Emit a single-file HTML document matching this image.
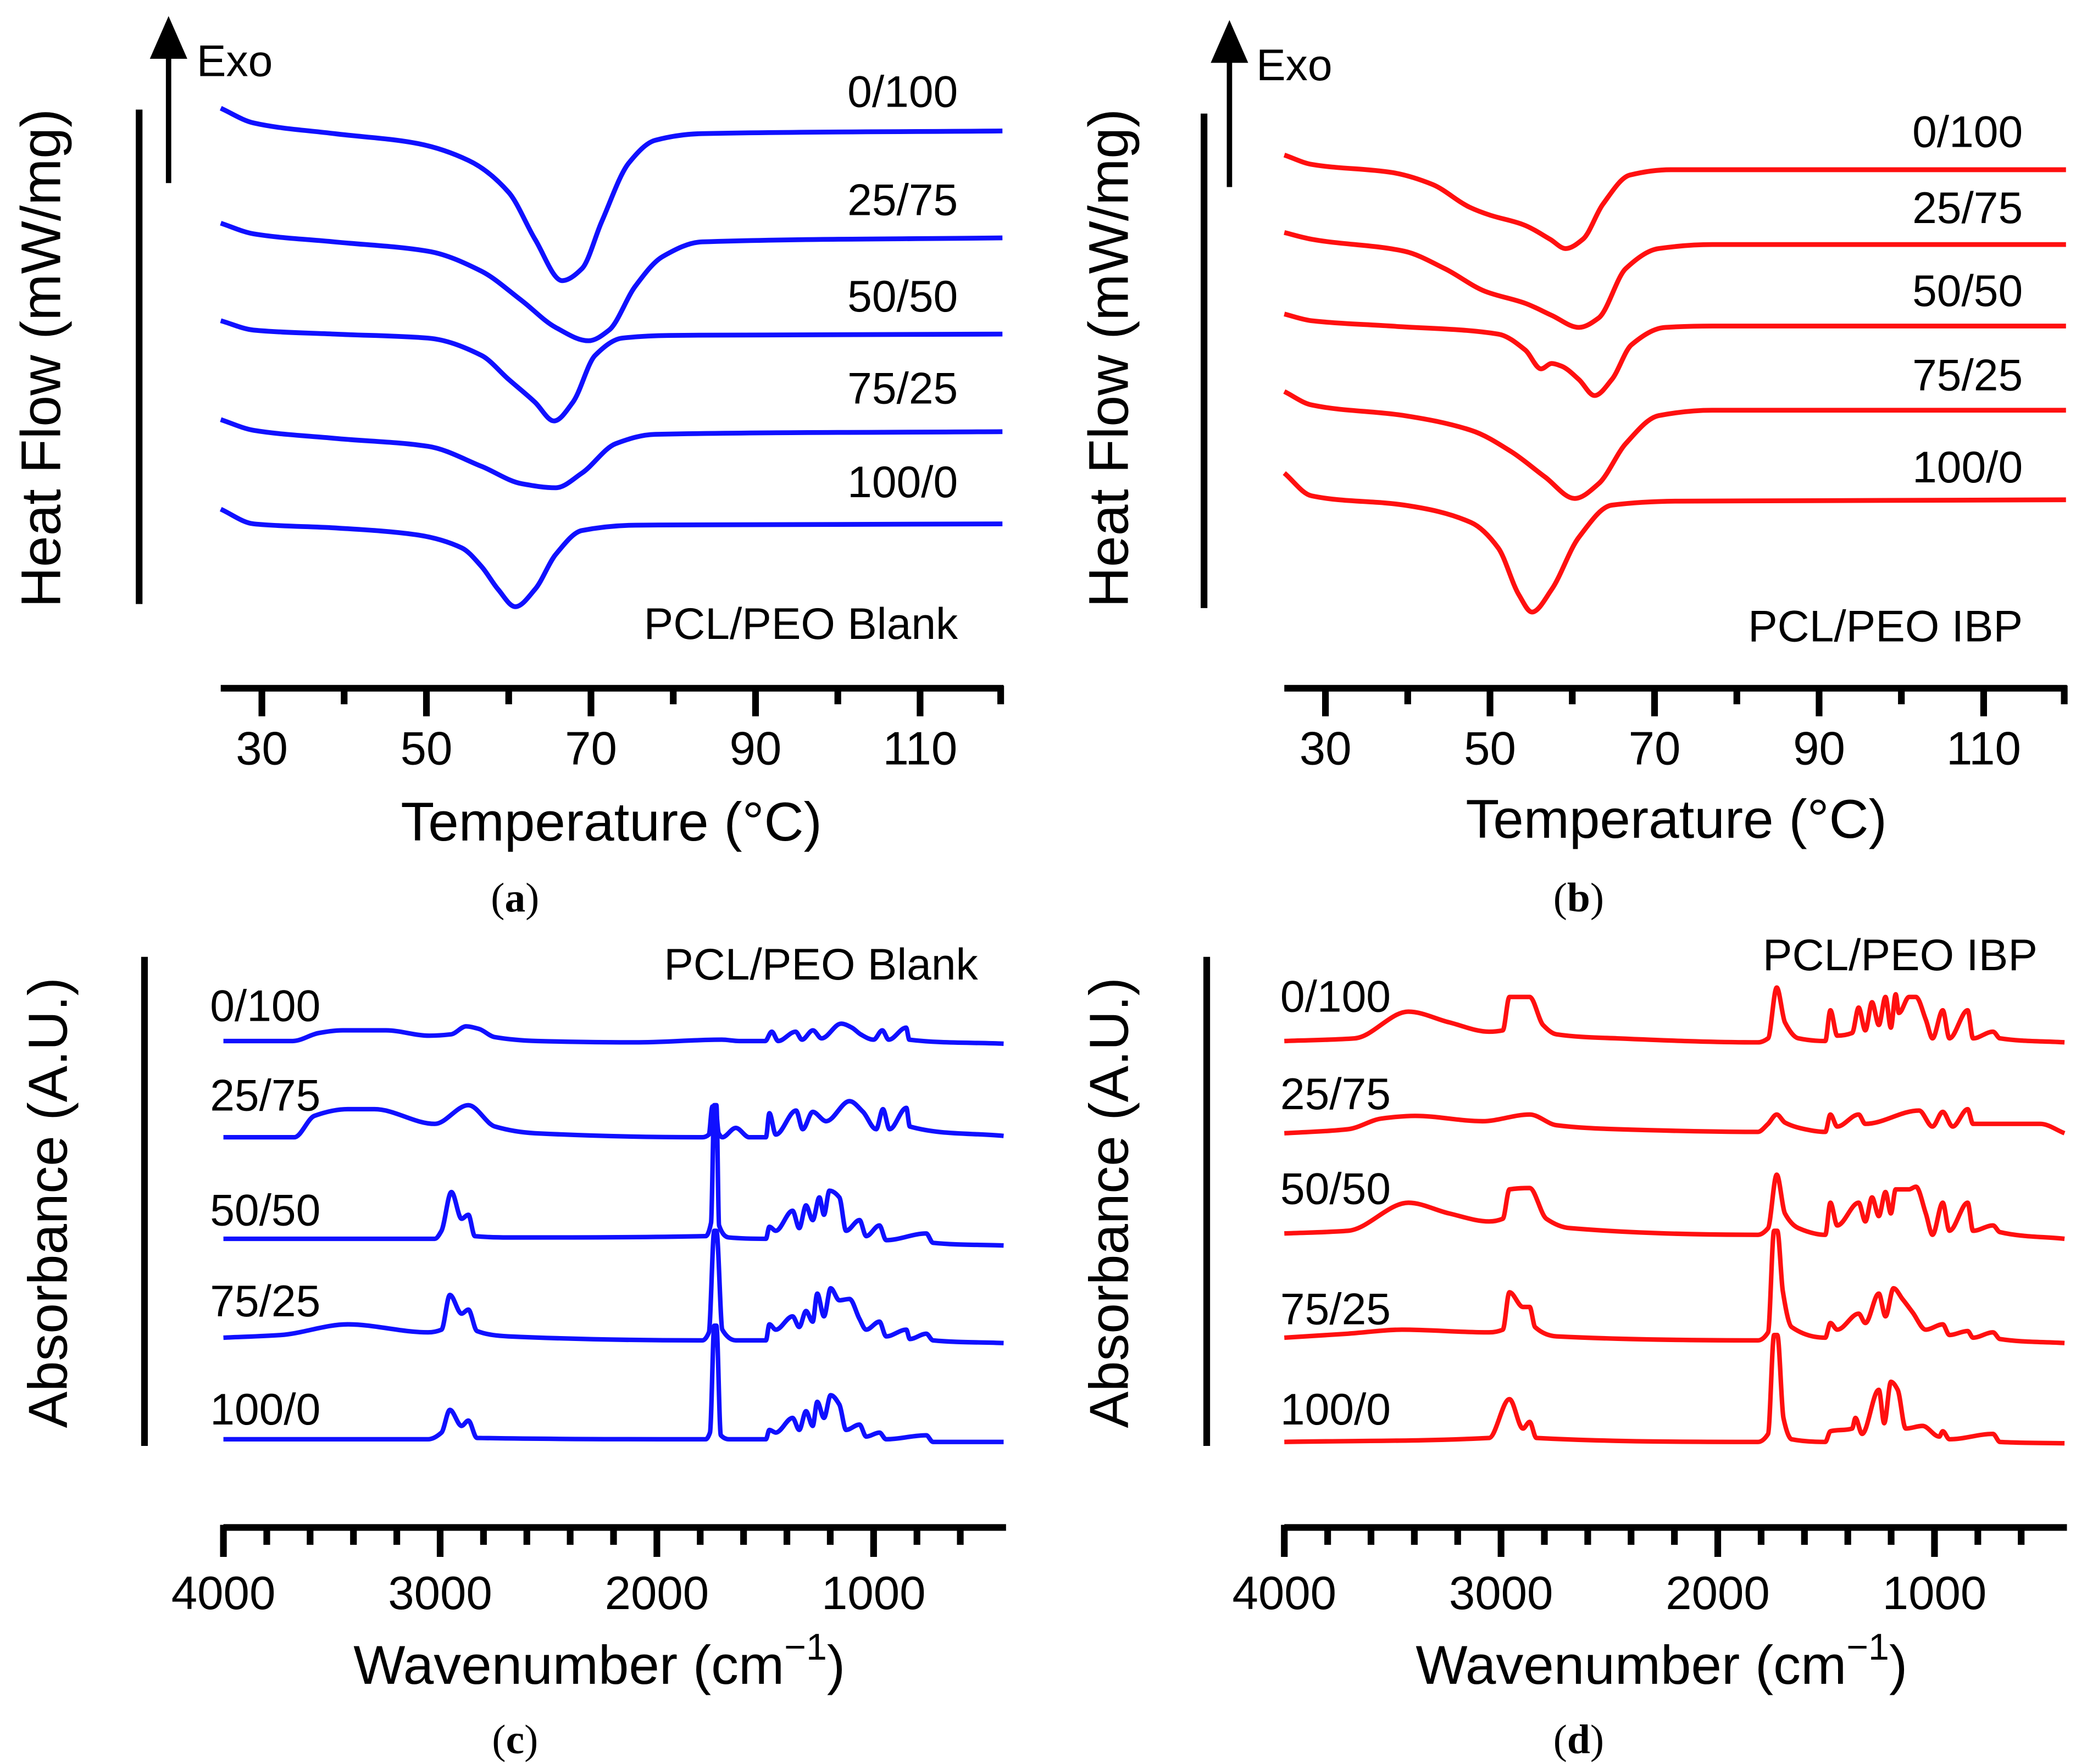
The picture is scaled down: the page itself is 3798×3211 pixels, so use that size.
<!DOCTYPE html>
<html><head><meta charset="utf-8"><style>
html,body{margin:0;padding:0;background:#fff}
svg{display:block}
text{font-family:"Liberation Sans",Arial,sans-serif;fill:#000}
.cap{font-family:"Liberation Serif",serif}
</style></head><body>
<svg id="fig" xmlns="http://www.w3.org/2000/svg" width="3798" height="3211" viewBox="0 0 1560 1320" preserveAspectRatio="none">
<g id="static">
<line x1="104" y1="82" x2="104" y2="452" stroke="#000" stroke-width="5"/>
<line x1="126" y1="137" x2="126" y2="38" stroke="#000" stroke-width="4"/>
<polygon points="126,12 112,44 140,44" fill="#000"/>
<text x="147" y="57" font-size="33">Exo</text>
<text transform="translate(45,268) rotate(-90)" text-anchor="middle" font-size="42">Heat Flow (mW/mg)</text>
<text x="716" y="478" text-anchor="end" font-size="33">PCL/PEO Blank</text>
<text x="457" y="629" text-anchor="middle" font-size="41">Temperature (°C)</text>
<text class="cap" x="385" y="682" text-anchor="middle" font-size="31">(<tspan font-weight="bold">a</tspan>)</text>
<line x1="900" y1="85" x2="900" y2="455" stroke="#000" stroke-width="5"/>
<line x1="919" y1="140" x2="919" y2="41" stroke="#000" stroke-width="4"/>
<polygon points="919,15 905,47 933,47" fill="#000"/>
<text x="939" y="60" font-size="33">Exo</text>
<text transform="translate(843,268) rotate(-90)" text-anchor="middle" font-size="42">Heat Flow (mW/mg)</text>
<text x="1512" y="480" text-anchor="end" font-size="33">PCL/PEO IBP</text>
<text x="1253" y="627" text-anchor="middle" font-size="41">Temperature (°C)</text>
<text class="cap" x="1180" y="682" text-anchor="middle" font-size="31">(<tspan font-weight="bold">b</tspan>)</text>
<line x1="108" y1="716" x2="108" y2="1082" stroke="#000" stroke-width="5"/>
<text transform="translate(50,900) rotate(-90)" text-anchor="middle" font-size="41">Absorbance (A.U.)</text>
<text x="731" y="733" text-anchor="end" font-size="33">PCL/PEO Blank</text>
<text x="448" y="1260" text-anchor="middle" font-size="41">Wavenumber (cm<tspan dy="-18" font-size="28">−1</tspan><tspan dy="18">)</tspan></text>
<text class="cap" x="385" y="1312" text-anchor="middle" font-size="31">(<tspan font-weight="bold">c</tspan>)</text>
<line x1="902" y1="716" x2="902" y2="1082" stroke="#000" stroke-width="5"/>
<text transform="translate(843,900) rotate(-90)" text-anchor="middle" font-size="41">Absorbance (A.U.)</text>
<text x="1523" y="726" text-anchor="end" font-size="33">PCL/PEO IBP</text>
<text x="1242" y="1260" text-anchor="middle" font-size="41">Wavenumber (cm<tspan dy="-18" font-size="28">−1</tspan><tspan dy="18">)</tspan></text>
<text class="cap" x="1180" y="1312" text-anchor="middle" font-size="31">(<tspan font-weight="bold">d</tspan>)</text>
</g>
<g id="dyn"></g>
</svg>
<script>
const dscLabels = ["0/100","25/75","50/50","75/25","100/0"];
const dscTicks = [30,50,70,90,110];
const dscMinorTicks = [40,60,80,100,120];
const dscA_T = [
 [25,29,38.8,48.6,55.1,60,63.2,66.5,68.9,71.3,74.6,77.8,83.5,120],
 [25,29,38.8,50.2,56.7,61.6,65.7,69.7,72.2,75.4,78.7,83.5,120],
 [25,29,38.8,50.2,56.7,60,63.2,65.5,67.8,70.5,73.8,79.5,120],
 [25,29,38.8,50.2,56.7,61.6,65.7,68.9,73,77.8,120],
 [25,29,38.8,48.6,54.3,56.7,58.7,60.8,63.2,65.7,68.9,75.4,120]
];
const dscA_HF = [
 [41.9,40.8,40.0,39.3,38.0,35.6,32.1,29.0,29.9,33.4,37.8,39.5,40.0,40.2],
 [33.3,32.5,31.9,31.2,29.7,27.5,25.5,24.5,25.3,28.6,30.8,31.9,32.2],
 [26.0,25.3,25.0,24.7,23.4,21.6,19.9,18.5,19.9,23.4,24.7,24.9,25.0],
 [18.6,17.8,17.2,16.6,15.1,13.8,13.5,14.6,16.8,17.5,17.7],
 [11.9,10.8,10.5,10.0,9.0,7.6,5.9,4.6,5.9,8.5,10.3,10.7,10.8]
];
const dscB_T = [
 [25,28.3,38,43,47.5,50,54,57.3,59.2,61.3,63.7,67,72,120],
 [25,28.3,39.6,44.5,49.4,54.3,57.5,60.8,63.2,66.5,70.5,77,120],
 [25,28.3,38,51,54.3,56.2,57.5,58.7,60.8,62.7,64.8,67.2,71.3,77,120],
 [25,28.3,39.6,47.7,52.6,56.7,60.3,63.2,66.5,70.5,77,120],
 [25,28.3,39.6,47.7,51,53.5,55.1,57.5,60.8,64.8,73,120]
];
const dscB_HF = [
 [38.4,37.7,37.1,36.2,34.5,33.9,33.2,32.1,31.4,32.1,34.7,36.9,37.3,37.3],
 [32.6,32.1,31.2,29.9,28.2,27.3,26.4,25.5,26.2,29.9,31.4,31.7,31.7],
 [26.5,26.0,25.6,25.0,23.8,22.4,22.8,22.6,21.6,20.4,21.6,24.2,25.5,25.6,25.6],
 [20.7,19.7,18.9,17.8,16.2,14.3,12.7,13.8,16.8,18.9,19.3,19.3],
 [14.6,12.9,12.2,10.9,9.0,5.5,4.2,5.9,9.8,12.2,12.5,12.6]
];
const ftirTicks = [4000,3000,2000,1000];
const ftirMinorTicks = [3800,3600,3400,3200,2800,2600,2400,2200,1800,1600,1400,1200,800,600];
const ftirOffsetsC = [32.1,24.9,17.3,9.9,2.3];
const ftirOffsetsD = [32.1,25.2,17.6,9.7,2.1];
const ftirC0 = [[4000,0],[3680,0],[3560,0.6],[3450,0.8],[3250,0.8],[3050,0.4],[2950,0.5],[2880,1.1],[2820,0.9],[2750,0.3],[2550,0],[2100,-0.1],[1700,0.1],[1620,0],[1500,0],[1470,0.7],[1440,0],[1360,0.7],[1330,0.1],[1280,0.8],[1240,0.2],[1150,1.3],[1100,1.0],[1060,0.5],[1000,0.1],[960,0.8],[930,0.1],[850,1.0],[835,0.1],[400,-0.2]];
const ftirC1 = [[4000,0],[3673,0],[3580,1.6],[3426,2.1],[3303,2.1],[3025,1.0],[2870,2.4],[2747,0.8],[2562,0.3],[1790,0],[1760,0.2],[1744,2.3],[1730,2.3],[1715,0.3],[1698,0],[1636,0.7],[1574,0],[1497,0],[1481,1.8],[1451,0.2],[1358,2.0],[1327,0.6],[1281,1.9],[1219,1.2],[1111,2.7],[1049,1.9],[988,0.6],[957,2.1],[926,0.6],[849,2.2],[833,0.8],[400,0.1]];
const ftirC2 = [[4000,0],[3025,0],[2994,0.6],[2948,3.5],[2901,1.5],[2870,1.8],[2840,0.2],[2685,0.1],[1775,0.2],[1750,1.2],[1735,10],[1725,10],[1713,1.0],[1667,0.1],[1497,0],[1481,0.9],[1451,0.6],[1374,2.1],[1343,0.8],[1312,2.5],[1281,1.4],[1250,3.1],[1229,1.8],[1204,3.6],[1158,3.1],[1127,0.6],[1065,1.4],[1034,0.2],[973,1.0],[942,-0.1],[757,0.4],[726,-0.3],[400,-0.5]];
const ftirC3 = [[4000,0],[3735,0.2],[3426,1.0],[3056,0.4],[2994,0.6],[2955,3.2],[2901,1.8],[2870,2.1],[2830,0.5],[2685,0.1],[1790,-0.2],[1760,0.4],[1735,8],[1725,8],[1698,0.6],[1636,-0.2],[1497,-0.2],[1481,1.0],[1451,0.6],[1374,1.6],[1343,0.8],[1312,2.0],[1281,1.2],[1260,3.3],[1229,1.6],[1198,3.7],[1158,2.8],[1111,2.9],[1065,1.4],[1034,0.6],[973,1.2],[942,0.1],[849,0.6],[833,-0.1],[757,0.3],[726,-0.2],[400,-0.4]];
const ftirC4 = [[4000,0],[3056,0],[2994,0.5],[2955,2.2],[2901,1.0],[2870,1.4],[2830,0.1],[1775,0],[1755,0.5],[1735,8.5],[1725,8.5],[1705,0.3],[1667,0],[1497,0],[1481,0.7],[1451,0.5],[1374,1.6],[1343,0.7],[1312,2.1],[1281,1.0],[1260,2.8],[1229,1.6],[1198,3.3],[1158,2.6],[1127,0.7],[1065,1.1],[1034,0.2],[973,0.5],[942,0],[757,0.3],[726,-0.2],[400,-0.2]];
const ftirD0 = [[4000,0],[3675,0.2],[3427,2.2],[3240,1.4],[3055,0.7],[2992,0.8],[2961,3.3],[2868,3.3],[2806,1.2],[2744,0.5],[2465,0.2],[1815,-0.1],[1768,0.2],[1728,4.0],[1690,1.4],[1628,0.2],[1504,0],[1480,2.3],[1449,0.4],[1380,0.6],[1350,2.5],[1319,0.8],[1288,2.9],[1257,1.2],[1226,3.3],[1201,1.0],[1179,3.5],[1164,2.1],[1117,3.3],[1086,3.3],[1040,1.6],[1009,0.2],[962,2.3],[931,0.2],[847,2.3],[822,0.2],[730,0.7],[698,0.2],[400,-0.1]];
const ftirD1 = [[4000,0],[3706,0.3],[3551,1.1],[3396,1.3],[3086,0.9],[2868,1.4],[2744,0.6],[2465,0.3],[1815,0.1],[1768,0.7],[1728,1.4],[1690,0.8],[1597,0.3],[1504,0.1],[1480,1.4],[1449,0.5],[1350,1.4],[1319,0.7],[1071,1.7],[1009,0.5],[962,1.6],[916,0.5],[847,1.8],[822,0.7],[512,0.7],[400,0]];
const ftirD2 = [[4000,0.1],[3706,0.3],[3427,2.4],[3240,1.6],[3055,1.0],[2992,1.2],[2961,3.4],[2868,3.5],[2791,1.2],[2682,0.5],[1815,0],[1768,0.5],[1728,4.5],[1690,1.6],[1628,0.5],[1504,0],[1480,2.4],[1449,0.7],[1350,2.4],[1319,1.0],[1288,2.8],[1257,1.4],[1226,3.2],[1201,1.6],[1179,3.4],[1117,3.4],[1086,3.6],[1040,1.6],[1009,0],[962,2.4],[931,0.3],[847,2.4],[822,0.3],[730,0.7],[698,0.2],[400,-0.3]];
const ftirD3 = [[4000,0.2],[3706,0.5],[3458,0.8],[3055,0.6],[2992,0.8],[2961,3.6],[2899,2.5],[2868,2.5],[2843,1.0],[2744,0.3],[1815,0],[1768,0.6],[1740,8.2],[1725,8.2],[1700,3.7],[1659,1.0],[1504,0.2],[1480,1.3],[1449,0.8],[1350,2.0],[1319,1.3],[1257,3.5],[1226,1.8],[1189,3.9],[1148,3.1],[1101,2.1],[1040,0.8],[962,1.2],[931,0.4],[847,0.7],[822,0.2],[730,0.6],[698,0.1],[400,-0.2]];
const ftirD4 = [[4000,0],[3055,0.3],[2961,3.2],[2899,1.0],[2868,1.5],[2837,0.3],[1815,0],[1768,0.6],[1740,8.0],[1725,8.0],[1697,1.8],[1659,0.2],[1504,0],[1480,0.8],[1380,1.0],[1365,1.8],[1334,0.6],[1257,3.9],[1232,1.4],[1201,4.5],[1170,3.9],[1133,1.0],[1055,1.2],[978,0.4],[962,0.8],[931,0.2],[730,0.6],[698,0],[400,-0.1]];

const NS="http://www.w3.org/2000/svg";
const root=document.getElementById('dyn');
function mk(tag,attrs){const e=document.createElementNS(NS,tag);for(const k in attrs)e.setAttribute(k,attrs[k]);root.appendChild(e);return e;}

// monotone cubic (Fritsch-Carlson) path through points sorted by x
function monoPath(pts){
  const n=pts.length, dx=[], s=[], m=[];
  for(let i=0;i<n-1;i++){dx[i]=pts[i+1][0]-pts[i][0]; s[i]=(pts[i+1][1]-pts[i][1])/(dx[i]||1e-6);}
  m[0]=s[0]; m[n-1]=s[n-2];
  for(let i=1;i<n-1;i++){
    if(s[i-1]*s[i]<=0) m[i]=0;
    else { const w1=2*dx[i]+dx[i-1], w2=dx[i]+2*dx[i-1]; m[i]=(w1+w2)/(w1/s[i-1]+w2/s[i]); }
  }
  let d="M"+pts[0][0].toFixed(1)+","+pts[0][1].toFixed(1);
  for(let i=0;i<n-1;i++){
    const h=dx[i]/3;
    d+=" C"+(pts[i][0]+h).toFixed(1)+","+(pts[i][1]+m[i]*h).toFixed(1)+" "+(pts[i+1][0]-h).toFixed(1)+","+(pts[i+1][1]-m[i+1]*h).toFixed(1)+" "+pts[i+1][0].toFixed(1)+","+pts[i+1][1].toFixed(1);
  }
  return d;
}

function dscPanel(id,x0,Tarr,HFarr,color,labelX,labelYs){
  const xS=t=>x0+(t-25)*6.15;
  const yS=v=>500-v*10;
  const ax=mk('line',{x1:x0,y1:515,x2:x0+585,y2:515,stroke:'#000','stroke-width':5});
  
  
  dscTicks.forEach(t=>{
    const l=mk('line',{x1:xS(t),y1:513,x2:xS(t),y2:536,stroke:'#000','stroke-width':5});
    
    
    const tx=mk('text',{x:xS(t),y:572,'text-anchor':'middle','font-size':35});
    tx.textContent=t;
    
    
  });
  dscMinorTicks.forEach(t=>{
    const l=mk('line',{x1:Math.min(xS(t),x0+583),y1:513,x2:Math.min(xS(t),x0+583),y2:527,stroke:'#000','stroke-width':5});
    
    
  });
  Tarr.forEach((ts,i)=>{
    const pts=ts.map((t,j)=>[xS(t),yS(HFarr[i][j])]);
    const p=mk('path',{d:monoPath(pts),fill:'none',stroke:color,'stroke-width':3.6,'stroke-linejoin':'round'});
    
    
    const tx=mk('text',{x:labelX,y:labelYs[i],'text-anchor':'end','font-size':33});
    tx.textContent=dscLabels[i];
    
    
  });
}

function ftirPanel(id,x0,series,offsets,color,labelX,labelYs){
  const xS=w=>x0+(4000-w)*0.162;
  const yS=a=>1100-a*10;
  const ax=mk('line',{x1:x0,y1:1143,x2:x0+585,y2:1143,stroke:'#000','stroke-width':5});
  
  
  ftirTicks.forEach(w=>{
    const l=mk('line',{x1:xS(w),y1:1141,x2:xS(w),y2:1165,stroke:'#000','stroke-width':5});
    
    
    const tx=mk('text',{x:xS(w),y:1204,'text-anchor':'middle','font-size':35});
    tx.textContent=w;
    
    
  });
  ftirMinorTicks.forEach(w=>{
    const l=mk('line',{x1:xS(w),y1:1141,x2:xS(w),y2:1156,stroke:'#000','stroke-width':5});
    
    
  });
  series.forEach((s,i)=>{
    const pts=s.map(p=>[xS(p[0]),yS(p[1]+offsets[i])]);
    const p=mk('path',{d:monoPath(pts),fill:'none',stroke:color,'stroke-width':3.4,'stroke-linejoin':'round'});
    
    
    const tx=mk('text',{x:labelX,y:labelYs[i],'font-size':33});
    tx.textContent=dscLabels[i];
    
    
  });
}

dscPanel('a',165,dscA_T,dscA_HF,'#1010ff',716,[80,161,233,302,372]);
dscPanel('b',960,dscB_T,dscB_HF,'#ff1010',1512,[110,167,229,292,361]);
ftirPanel('c',167,[ftirC0,ftirC1,ftirC2,ftirC3,ftirC4],ftirOffsetsC,'#1010ff',157,[764,831,917,985,1066]);
ftirPanel('d',960,[ftirD0,ftirD1,ftirD2,ftirD3,ftirD4],ftirOffsetsD,'#ff1010',957,[757,830,901,991,1066]);
</script>
</body></html>
